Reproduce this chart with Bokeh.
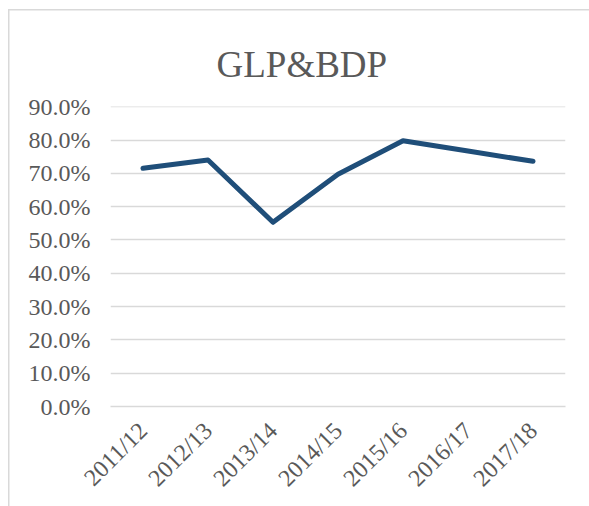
import math
from bokeh.plotting import figure
from bokeh.models import FactorRange, Range1d, FixedTicker, NumeralTickFormatter
from bokeh.embed import file_html
from bokeh.resources import INLINE

# ---- data ----
years = ["2011/12", "2012/13", "2013/14", "2014/15", "2015/16", "2016/17", "2017/18"]
ratio = [0.715, 0.740, 0.553, 0.697, 0.798, 0.767, 0.736]
y_ticks = [0.0, 0.1, 0.2, 0.3, 0.4, 0.5, 0.6, 0.7, 0.8, 0.9]
title_text = "GLP&BDP"

TEXT = "#595959"
GRID = "#d9d9d9"
LINE = "#1f4e79"
FONT = "Liberation Serif"

p = figure(
    width=581, height=497,
    x_range=FactorRange(*years, range_padding=0),
    y_range=Range1d(0, 0.9006),
    output_backend="svg", toolbar_location=None,
    min_border_left=102, min_border_right=24,
    min_border_top=97, min_border_bottom=100,
)

p.title.text = title_text
p.title.text_font = FONT
p.title.text_font_size = "37px"
p.title.text_font_style = "normal"
p.title.text_color = TEXT
p.title.align = "left"
p.title.vertical_align = "top"
p.title.offset = 106
p.title.standoff = 40

p.line(x=years, y=ratio, line_color=LINE, line_width=5,
       line_join="round", line_cap="round")

p.outline_line_color = None
p.background_fill_color = "white"
p.border_fill_color = None
p.styles = {"margin-left": "8px", "margin-top": "9px",
            "box-shadow": "inset 1.5px 1.5px 0 #d9d9d9"}

p.xgrid.grid_line_color = None
p.ygrid.grid_line_color = GRID
p.ygrid.grid_line_width = 1.5

p.yaxis.ticker = FixedTicker(ticks=y_ticks)
p.yaxis.formatter = NumeralTickFormatter(format="0.0%")
p.yaxis.axis_line_color = None
p.yaxis.major_tick_line_color = None
p.yaxis.minor_tick_line_color = None
p.yaxis.major_tick_out = 0
p.yaxis.major_label_standoff = 20
p.yaxis.major_label_text_font = FONT
p.yaxis.major_label_text_font_size = "24px"
p.yaxis.major_label_text_color = TEXT

p.xaxis.axis_line_color = GRID
p.xaxis.axis_line_width = 1.5
p.xaxis.major_tick_line_color = None
p.xaxis.major_tick_out = 0
p.xaxis.major_label_orientation = math.pi / 4
p.xaxis.major_label_standoff = 20
p.xaxis.major_label_text_font = FONT
p.xaxis.major_label_text_font_size = "24px"
p.xaxis.major_label_text_color = TEXT

open("out.html", "w").write(file_html(p, INLINE))
